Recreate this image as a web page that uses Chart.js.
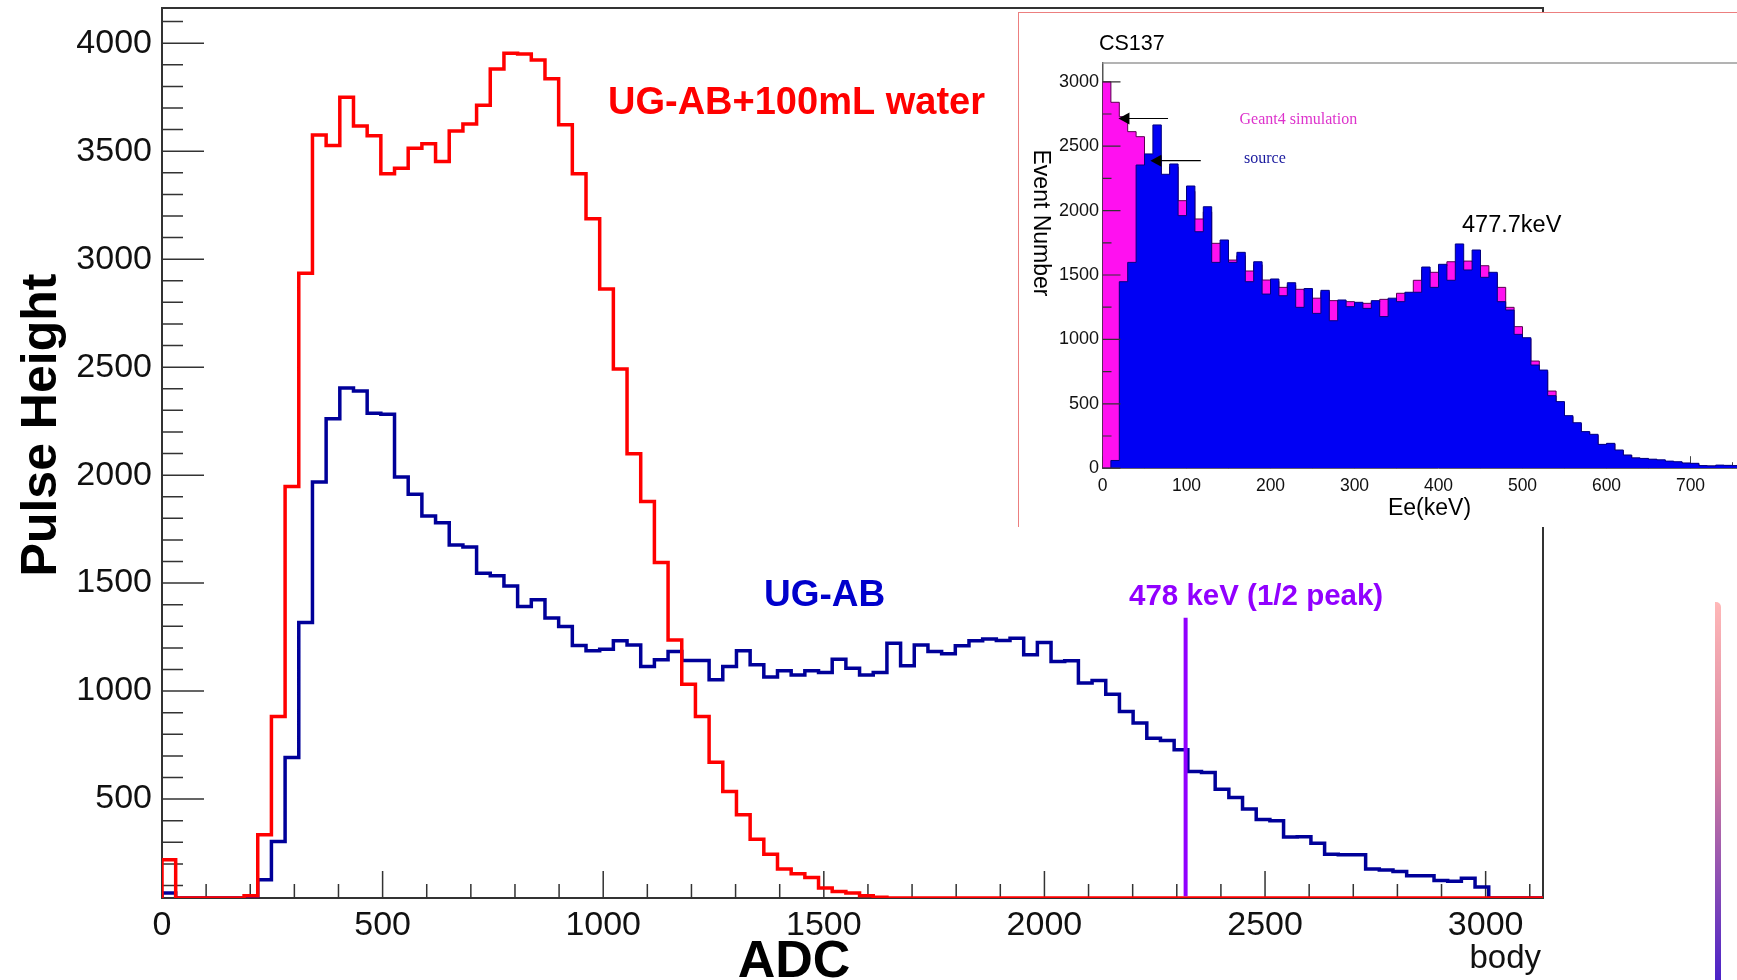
<!DOCTYPE html>
<html>
<head>
<meta charset="utf-8">
<title>UG-AB pulse height</title>
<script src="https://cdn.jsdelivr.net/npm/chart.js@4.4.1/dist/chart.umd.min.js"></script>
<style>
  html, body { margin: 0; padding: 0; background: #fff; overflow: hidden; }
  body { width: 1737px; height: 980px; position: relative; }
  #main { position: absolute; left: 0; top: 0; }
  #insetBox { position: absolute; left: 1018px; top: 12px; width: 780px; height: 515px; background: #fff;
              border-left: 1.5px solid #ec7f7f; border-top: 1.5px solid #ec7f7f; box-sizing: border-box; }
  #inset { position: absolute; left: 1020px; top: 14px; }
  #edge { position: absolute; left: 1715px; top: 602px; width: 6px; height: 378px; border-top-right-radius: 5px;
          background: linear-gradient(#ffb8b8, #d47f9e 45%, #4a22c8); }
</style>
</head>
<body>
<canvas id="main" width="1737" height="980"></canvas>
<div id="insetBox"></div>
<canvas id="inset" width="780" height="513"></canvas>
<div id="edge"></div>
<script>
// main plot: ADC spectra, bins of 31 ADC channels starting at 0
const adcBinWidth = 31;
const waterCounts = [
  219, 0, 0, 0, 0, 0, 52, 335, 882, 1947,
  2935, 3575, 3526, 3750, 3617, 3571, 3395, 3421, 3514, 3534,
  3452, 3594, 3626, 3713, 3881, 3953, 3950, 3922, 3835, 3622,
  3395, 3187, 2862, 2491, 2099, 1878, 1595, 1237, 1032, 882,
  671, 535, 427, 314, 245, 176, 154, 137, 88, 72,
  65, 52, 46, 30, 20, 12, 8, 5, 3, 0,
  0, 0, 0, 0, 0, 0, 0, 0, 0, 0,
  0, 0, 0, 0, 0, 0, 0, 0, 0, 0,
  0, 0, 0, 0, 0, 0, 0, 0, 0, 0,
  0, 0, 0, 0, 0, 0, 0, 0, 0, 0,
  0
];
const ugabCounts = [
  65, 0, 0, 0, 0, 0, 0, 126, 304, 693,
  1318, 1968, 2261, 2403, 2390, 2287, 2282, 1991, 1912, 1811,
  1780, 1677, 1667, 1546, 1534, 1487, 1392, 1423, 1338, 1299,
  1211, 1187, 1194, 1233, 1214, 1114, 1145, 1183, 1142, 1142,
  1052, 1114, 1187, 1122, 1065, 1094, 1075, 1094, 1086, 1148,
  1106, 1075, 1086, 1222, 1117, 1214, 1183, 1173, 1210, 1233,
  1241, 1234, 1245, 1168, 1225, 1137, 1140, 1037, 1049, 986,
  906, 852, 782, 771, 728, 628, 623, 546, 507, 454,
  405, 400, 324, 326, 296, 245, 242, 242, 176, 172,
  165, 145, 145, 123, 119, 134, 93, 0, 0, 0,
  0
];
const halfPeakAdc = [2320, 2320];
const halfPeakSpan = [50, 1340];
const adcRange = [0, 3130];
const pulseRange = [42, 4163];
const adcTicks = [0, 500, 1000, 1500, 2000, 2500, 3000];
const pulseTicks = [500, 1000, 1500, 2000, 2500, 3000, 3500, 4000];

// inset: CS137, 10 keV bins
const keVBinWidth = 10;
const geant4Counts = [
  3000, 2841, 2729, 2613, 2574, 2420, 2420, 2270, 2340, 2077,
  2150, 1935, 1990, 1746, 1750, 1616, 1650, 1531, 1580, 1461,
  1450, 1404, 1420, 1389, 1380, 1320, 1365, 1301, 1295, 1293,
  1280, 1280, 1290, 1311, 1310, 1358, 1360, 1459, 1540, 1521,
  1570, 1603, 1600, 1608, 1600, 1572, 1510, 1404, 1249, 1099,
  1005, 832, 750, 599, 510, 400, 345, 280, 255, 180,
  188, 138, 100, 78, 72, 66, 60, 52, 46, 38,
  34, 18, 16, 20, 19, 17, 20, 16, 14, 12
];
const sourceCounts = [
  0, 60, 1448, 1598, 2354, 2440, 2665, 2282, 2362, 1961,
  2191, 1836, 2030, 1598, 1772, 1598, 1676, 1448, 1603, 1352,
  1469, 1339, 1440, 1249, 1395, 1202, 1381, 1145, 1306, 1254,
  1288, 1241, 1301, 1177, 1320, 1293, 1366, 1366, 1562, 1404,
  1583, 1459, 1741, 1539, 1694, 1482, 1521, 1293, 1228, 1039,
  1013, 801, 762, 563, 517, 408, 353, 284, 263, 185,
  193, 141, 102, 80, 76, 70, 65, 55, 50, 40,
  38, 20, 18, 24, 22, 20, 24, 20, 18, 15
];
const keVRange = [0, 800];
const eventRange = [0, 3146];
const keVTicks = [0, 100, 200, 300, 400, 500, 600, 700, 800];
const eventTicks = [0, 500, 1000, 1500, 2000, 2500, 3000];
// arrows pointing at the two histograms: [tail keV, head keV, level]
const arrowGeant4 = [78, 19, 2715];
const arrowSource = [117, 57, 2388];

const SANS = "'Liberation Sans', Arial, Helvetica, sans-serif";
const SERIF = "'Liberation Serif', 'Times New Roman', serif";

// histogram outline: start on the floor, step over each bin, come back to the floor
function histPoints(counts, w, floor) {
  const pts = [{x: 0, y: floor}];
  counts.forEach((c, i) => pts.push({x: i * w, y: Math.max(c, floor)}));
  pts.push({x: counts.length * w, y: floor});
  return pts;
}

function fixedTicks(values) {
  return s => { s.ticks = values.map(v => ({value: v})); };
}

// fixed axis box, and no extra room reserved for the end labels
function fitAxis(size) {
  return s => {
    if (s.isHorizontal()) s.height = size; else s.width = size;
    s.paddingTop = 0; s.paddingBottom = 0; s.paddingLeft = 0; s.paddingRight = 0;
  };
}

// ROOT style ticks pointing into the frame
function drawTicks(chart, t) {
  const {ctx, chartArea: a} = chart;
  const sc = chart.scales[t.axis];
  ctx.save();
  ctx.strokeStyle = t.color;
  ctx.lineWidth = t.width;
  ctx.beginPath();
  for (let v = Math.ceil(sc.min / t.minor) * t.minor; v <= sc.max; v += t.minor) {
    const len = Math.abs(v % t.major) < 1e-6 ? t.len[0] : t.len[1];
    const p = sc.getPixelForValue(v);
    if (t.axis === 'x') { ctx.moveTo(p, a.bottom); ctx.lineTo(p, a.bottom - len); }
    else { ctx.moveTo(a.left, p); ctx.lineTo(a.left + len, p); }
  }
  ctx.stroke();
  ctx.restore();
}

function drawTexts(ctx, items) {
  items.forEach(t => {
    ctx.save();
    ctx.font = t.font;
    ctx.fillStyle = t.color || '#000';
    ctx.textAlign = t.align || 'left';
    ctx.textBaseline = t.baseline || 'alphabetic';
    ctx.translate(t.x, t.y);
    if (t.rotate) ctx.rotate(t.rotate * Math.PI / 180);
    ctx.fillText(t.text, 0, 0);
    ctx.restore();
  });
}

function makeDecor(cfg) {
  return {
    id: 'decor',
    beforeDatasetsDraw(chart) {
      const {ctx, chartArea: a} = chart;
      (cfg.ticksBefore || []).forEach(t => drawTicks(chart, t));
      if (cfg.frame) {
        ctx.save();
        ctx.strokeStyle = cfg.frame.color;
        ctx.lineWidth = cfg.frame.width;
        ctx.beginPath();
        ctx.moveTo(a.left, a.top);
        ctx.lineTo(a.right, a.top);
        if (cfg.frame.right) ctx.lineTo(a.right, a.bottom);
        ctx.stroke();
        ctx.restore();
      }
    },
    afterDatasetsDraw(chart) {
      (cfg.ticksAfter || []).forEach(t => drawTicks(chart, t));
    },
    afterDraw(chart) {
      const ctx = chart.ctx;
      const {x, y} = chart.scales;
      (cfg.arrows || []).forEach(ar => {
        const x0 = x.getPixelForValue(ar[0]), x1 = x.getPixelForValue(ar[1]), py = y.getPixelForValue(ar[2]);
        ctx.save();
        ctx.strokeStyle = '#000';
        ctx.fillStyle = '#000';
        ctx.lineWidth = 1.2;
        ctx.beginPath();
        ctx.moveTo(x0, py);
        ctx.lineTo(x1 + 8, py);
        ctx.stroke();
        ctx.beginPath();
        ctx.moveTo(x1, py);
        ctx.lineTo(x1 + 11, py - 6);
        ctx.lineTo(x1 + 11, py + 6);
        ctx.closePath();
        ctx.fill();
        ctx.restore();
      });
      drawTexts(ctx, cfg.texts || []);
    }
  };
}

Chart.defaults.font.family = SANS;
Chart.defaults.color = '#111';

new Chart(document.getElementById('main'), {
  type: 'line',
  data: {
    datasets: [
      {
        label: 'UG-AB',
        data: histPoints(ugabCounts, adcBinWidth, pulseRange[0]),
        borderColor: '#000099',
        borderWidth: 3.5,
        stepped: true,
        pointRadius: 0,
        fill: false,
        order: 3
      },
      {
        label: 'UG-AB+100mL water',
        data: histPoints(waterCounts, adcBinWidth, pulseRange[0]),
        borderColor: '#ff0000',
        borderWidth: 3.5,
        stepped: true,
        pointRadius: 0,
        fill: false,
        order: 2
      },
      {
        label: '478 keV (1/2 peak)',
        data: halfPeakAdc.map((v, i) => ({x: v, y: halfPeakSpan[i]})),
        borderColor: '#9100ff',
        borderWidth: 4,
        pointRadius: 0,
        fill: false,
        order: 1
      }
    ]
  },
  options: {
    responsive: false,
    animation: false,
    devicePixelRatio: 1,
    layout: {padding: {left: 0, top: 8, right: 194, bottom: 0}},
    plugins: {legend: {display: false}, tooltip: {enabled: false}},
    scales: {
      x: {
        type: 'linear',
        min: adcRange[0],
        max: adcRange[1],
        afterBuildTicks: fixedTicks(adcTicks),
        afterFit: fitAxis(82),
        grid: {display: false},
        border: {display: true, color: '#333', width: 2},
        ticks: {autoSkip: false, maxRotation: 0, padding: 2.5, callback: v => String(v),
                font: {size: 34, lineHeight: 1}, color: '#111'}
      },
      y: {
        type: 'linear',
        min: pulseRange[0],
        max: pulseRange[1],
        afterBuildTicks: fixedTicks(pulseTicks),
        afterFit: fitAxis(162),
        grid: {display: false, drawTicks: false},
        border: {display: true, color: '#333', width: 2},
        ticks: {autoSkip: false, padding: 10, callback: v => String(v),
                font: {size: 34, lineHeight: 1}, color: '#111'}
      }
    }
  },
  plugins: [makeDecor({
    frame: {color: '#333', width: 2, right: true},
    ticksBefore: [
      {axis: 'y', minor: 100, major: 500, len: [42, 21], color: '#333', width: 1.5},
      {axis: 'x', minor: 100, major: 500, len: [27, 14], color: '#333', width: 1.5}
    ],
    texts: [
      {text: 'UG-AB+100mL water', x: 608, y: 113.5, font: 'bold 38px ' + SANS, color: '#ff0000'},
      {text: 'UG-AB', x: 764, y: 606, font: 'bold 37px ' + SANS, color: '#0000cc'},
      {text: '478 keV (1/2 peak)', x: 1129, y: 605, font: 'bold 29.5px ' + SANS, color: '#9100ff'},
      {text: 'Pulse Height', x: 56, y: 425, rotate: -90, align: 'center', font: 'bold 50px ' + SANS},
      {text: 'ADC', x: 794, y: 977, align: 'center', font: 'bold 52px ' + SANS},
      {text: 'body', x: 1541, y: 968, align: 'right', font: '33px ' + SANS, color: '#111'}
    ]
  })]
});

new Chart(document.getElementById('inset'), {
  type: 'line',
  data: {
    datasets: [
      {
        label: 'source',
        data: histPoints(sourceCounts, keVBinWidth, 0),
        borderColor: '#000080',
        borderWidth: 1,
        backgroundColor: '#0000f4',
        stepped: true,
        pointRadius: 0,
        fill: 'origin',
        order: 1
      },
      {
        label: 'Geant4 simulation',
        data: histPoints(geant4Counts, keVBinWidth, 0),
        borderColor: '#5a0050',
        borderWidth: 1,
        backgroundColor: '#ff10f0',
        stepped: true,
        pointRadius: 0,
        fill: 'origin',
        order: 2
      }
    ]
  },
  options: {
    responsive: false,
    animation: false,
    devicePixelRatio: 1,
    layout: {padding: {left: 0, top: 49, right: 25.5, bottom: 0}},
    plugins: {legend: {display: false}, tooltip: {enabled: false}},
    scales: {
      x: {
        type: 'linear',
        min: keVRange[0],
        max: keVRange[1],
        afterBuildTicks: fixedTicks(keVTicks),
        afterFit: fitAxis(58.8),
        grid: {display: false},
        border: {display: true, color: '#666', width: 1},
        ticks: {autoSkip: false, maxRotation: 0, padding: 1.5, callback: v => String(v),
                font: {size: 17.5, lineHeight: 1}, color: '#111'}
      },
      y: {
        type: 'linear',
        min: eventRange[0],
        max: eventRange[1],
        afterBuildTicks: fixedTicks(eventTicks),
        afterFit: fitAxis(82.5),
        grid: {display: false, drawTicks: false},
        border: {display: true, color: '#555', width: 1.5},
        ticks: {autoSkip: false, padding: 3.5, callback: v => String(v),
                font: {size: 18, lineHeight: 1}, color: '#111'}
      }
    }
  },
  plugins: [makeDecor({
    frame: {color: '#9a9a9a', width: 1.5, right: false},
    ticksBefore: [
      {axis: 'x', minor: 50, major: 100, len: [12, 6], color: '#444', width: 1}
    ],
    ticksAfter: [
      {axis: 'y', minor: 250, major: 500, len: [18, 9], color: '#333', width: 1.2}
    ],
    arrows: [arrowGeant4, arrowSource],
    texts: [
      {text: 'CS137', x: 79, y: 36, font: '21.5px ' + SANS},
      {text: 'Event Number', x: 14, y: 209, rotate: 90, align: 'center', font: '23px ' + SANS},
      {text: 'Ee(keV)', x: 409.5, y: 501, align: 'center', font: '23px ' + SANS},
      {text: '477.7keV', x: 442, y: 218, font: '23.5px ' + SANS},
      {text: 'Geant4 simulation', x: 219.5, y: 105.6, baseline: 'middle', font: '16px ' + SERIF, color: '#dd33cc'},
      {text: 'source', x: 224, y: 145, baseline: 'middle', font: '16px ' + SERIF, color: '#1a1a9e'}
    ]
  })]
});
</script>
</body>
</html>
